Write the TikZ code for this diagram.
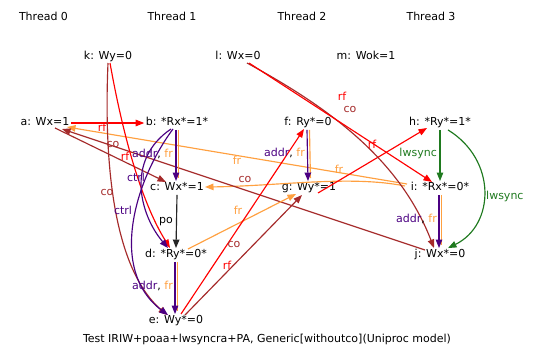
\documentclass[tikz,border=0pt]{standalone}
\usepackage{fontspec}
\setmainfont{DejaVu Sans}
\usetikzlibrary{arrows.meta}
\definecolor{rfc}{HTML}{FF0000}
\definecolor{coc}{HTML}{A52A2A}
\definecolor{frc}{HTML}{FFA040}
\definecolor{depc}{HTML}{4B0082}
\definecolor{lwc}{HTML}{1F7A1F}
\tikzset{
  ev/.style={inner sep=1.5pt, text height=8pt, text depth=2.5pt},
  lbl/.style={inner sep=0pt, text height=8pt, text depth=2.5pt},
  edgebase/.style={line width=1.15pt, -{Triangle[length=8.5pt,width=6.5pt]}},
  rfedge/.style={edgebase, draw=rfc},
  coedge/.style={edgebase, draw=coc},
  fredge/.style={edgebase, draw=frc},
  depedge/.style={edgebase, draw=depc},
  lwedge/.style={edgebase, draw=lwc},
  poedge/.style={edgebase, draw=black!85},
  frline/.style={line width=1.15pt, draw=frc, shorten >=3pt},
}
\begin{document}
\begin{tikzpicture}[x=1pt,y=-1pt,font=\fontsize{11}{13}\selectfont]
\useasboundingbox[fill=white] (0,0) rectangle (534,361);
% threads
\node[ev] (t0) at (43.5,18) {Thread 0};
\node[ev] (t1) at (172,18) {Thread 1};
\node[ev] (t2) at (302,18) {Thread 2};
\node[ev] (t3) at (431,18) {Thread 3};
% events
\node[ev] (k) at (108,57) {k: Wy=0};
\node[ev] (l) at (238,57) {l: Wx=0};
\node[ev] (m) at (366,57) {m: Wok=1};
\node[ev] (a) at (45,123) {a: Wx=1};
\node[ev] (b) at (177,123) {b: *Rx*=1*};
\node[ev] (f) at (308,123) {f: Ry*=0};
\node[ev] (h) at (440,123) {h: *Ry*=1*};
\node[ev] (c) at (177,188) {c: Wx*=1};
\node[ev] (g) at (309,188) {g: Wy*=1};
\node[ev] (i) at (440,188) {i: *Rx*=0*};
\node[ev] (d) at (176,255) {d: *Ry*=0*};
\node[ev] (j) at (440,255) {j: Wx*=0};
\node[ev] (e) at (176,321) {e: Wy*=0};
\node[ev] (cap) at (267,340) {Test IRIW+poaa+lwsyncra+PA, Generic[withoutco](Uniproc model)};

% long fr / co edges
\draw[fredge] ([shift={(-33,-4)}]i.center) -- ([shift={(22,4)}]a.center);
\draw[fredge] ([shift={(-35,-2)}]i.center) .. controls (350,175) and (280,186) .. ([shift={(28,-1)}]c.center);
\draw[coedge] ([shift={(-15,-5)}]j.center) -- ([shift={(17,6)}]a.center);
\draw[coedge] ([shift={(10,5)}]a.center) -- ([shift={(-11,-6)}]c.center);
\draw[fredge] ([shift={(12,-6)}]d.center) -- ([shift={(-13,6)}]g.center);
\draw[coedge] ([shift={(9,-6)}]e.center) -- ([shift={(-7,7)}]g.center);
\draw[rfedge] ([shift={(5,-7)}]e.center) -- ([shift={(-4,6)}]f.center);
\draw[rfedge] ([shift={(9,5)}]g.center) -- ([shift={(-13,5)}]h.center);
\draw[coedge] ([shift={(9,6)}]l.center) .. controls (330,108) and (400,160) .. ([shift={(-6,-7)}]j.center);
\draw[rfedge] ([shift={(11,6)}]l.center) -- ([shift={(-8,-6)}]i.center);
% thread 1 edges
\draw[rfedge] (a.east) -- (b.west);
\draw[coedge] ([shift={(0,6)}]k.center) .. controls (103,180) and (118,272) .. ([shift={(-9,-6)}]e.center);
\draw[rfedge] ([shift={(2,6)}]k.center) .. controls (122,130) and (140,200) .. ([shift={(-6,-7)}]d.center);
\draw[depedge] ([shift={(-6,6)}]b.center) .. controls (125,160) and (140,215) .. ([shift={(-8,-7)}]d.center);
\draw[depedge] ([shift={(-4,6)}]b.center) .. controls (135,180) and (108,270) .. ([shift={(-8,-6)}]e.center);
% vertical dependency edges
\draw[frline] ([xshift=1.5pt]b.south) -- ([xshift=1.5pt]c.north);
\draw[depedge] ([xshift=-1pt]b.south) -- ([xshift=-1pt]c.north);
\draw[poedge] (c.south) -- (d.north);
\draw[frline] ([xshift=1.5pt]d.south) -- ([xshift=1.5pt]e.north);
\draw[depedge] ([xshift=-1pt]d.south) -- ([xshift=-1pt]e.north);
\draw[frline] ([xshift=1.5pt]f.south) -- ([xshift=1.5pt]g.north);
\draw[depedge] ([xshift=-1pt]f.south) -- ([xshift=-1pt]g.north);
\draw[frline] ([xshift=1.5pt]i.south) -- ([xshift=1.5pt]i.south |- j.north);
\draw[depedge] ([xshift=-1pt]i.south) -- ([xshift=-1pt]i.south |- j.north);
\draw[lwedge] (h.south) -- (i.north);
\draw[lwedge] ([xshift=8pt]h.south) .. controls (497,160) and (495,225) .. ([xshift=8pt]j.north);

% labels
\node[lbl, text=rfc] (l1) at (102,129) {rf};
\node[lbl, anchor=east] (l2) at (173,155) {\textcolor{depc}{addr}, \textcolor{frc}{fr}};
\node[lbl] (l3) at (166,221) {po};
\node[lbl, anchor=east] (l4) at (173,287) {\textcolor{depc}{addr}, \textcolor{frc}{fr}};
\node[lbl, anchor=east] (l5) at (305,154) {\textcolor{depc}{addr}, \textcolor{frc}{fr}};
\node[lbl, anchor=east, text=lwc] (l6) at (437,154) {lwsync};
\node[lbl, anchor=east] (l7) at (437,220) {\textcolor{depc}{addr}, \textcolor{frc}{fr}};
\node[lbl, anchor=west, text=lwc] (l8) at (486,197) {lwsync};
\node[lbl, text=depc] (l9) at (136,179) {ctrl};
\node[lbl, text=depc] (l10) at (123,212) {ctrl};
\node[lbl, text=rfc] (l11) at (125,158) {rf};
\node[lbl, text=coc] (l12) at (107,193) {co};
\node[lbl, text=coc] (l13) at (113,145) {co};
\node[lbl, text=coc] (l14) at (245,180) {co};
\node[lbl, text=frc] (l15) at (237,162) {fr};
\node[lbl, text=frc] (l16) at (339,171) {fr};
\node[lbl, text=frc] (l17) at (238,212) {fr};
\node[lbl, text=coc] (l18) at (234,245) {co};
\node[lbl, text=rfc] (l19) at (227,267) {rf};
\node[lbl, text=rfc] (l20) at (372,146) {rf};
\node[lbl, text=rfc] (l21) at (342,98) {rf};
\node[lbl, text=coc] (l22) at (350,110) {co};
\end{tikzpicture}
\end{document}
